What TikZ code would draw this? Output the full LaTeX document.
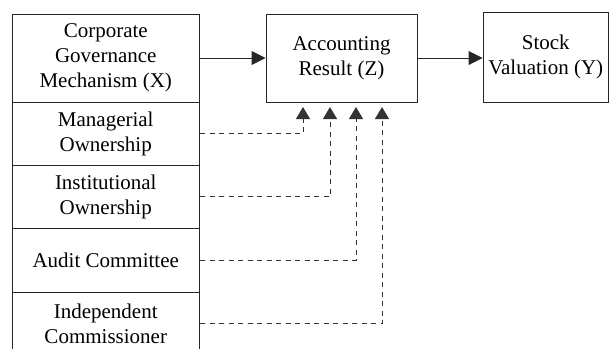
\documentclass[tikz,border=0pt]{standalone}
\usepackage{fontspec}
\setmainfont{Liberation Serif}
\usetikzlibrary{arrows.meta}
\tikzset{
  box/.style={draw=black!85, line width=1pt, inner sep=0pt, align=center, font=\fontsize{21}{25}\selectfont},
  solidarrow/.style={draw=black!85, line width=1pt, -{Triangle[length=14pt,width=14pt]}},
  dasharrow/.style={draw=black!80, line width=1pt, dash pattern=on 5pt off 4.5pt, -{Triangle[length=12pt,width=14pt]}}
}
\begin{document}
\begin{tikzpicture}[x=1pt,y=-1pt]
\useasboundingbox (0,0) rectangle (609,348);
\node[box, minimum width=187.5pt, minimum height=88pt] (X) at (105.75,58) {Corporate\\Governance\\Mechanism (X)};
\node[box, minimum width=187.5pt, minimum height=63pt] (M) at (105.75,133.5) {Managerial\\Ownership};
\node[box, minimum width=187.5pt, minimum height=63pt] (I) at (105.75,196.5) {Institutional\\Ownership};
\node[box, minimum width=187.5pt, minimum height=64pt] (A) at (105.75,260) {Audit Committee};
\node[box, minimum width=187.5pt, minimum height=63pt] (C) at (105.75,323.5) {Independent\\Commissioner};
\node[box, minimum width=151pt, minimum height=88pt] (Z) at (341.5,58) {Accounting\\Result (Z)};
\node[box, minimum width=125.5pt, minimum height=90pt] (Y) at (545.75,57) {Stock\\Valuation (Y)};
\draw[solidarrow] (X.east) -- (Z.west);
\draw[solidarrow] (Z.east) -- (Y.west |- Z.east);
\coordinate (t1) at (303,107);
\coordinate (t2) at (330,107);
\coordinate (t3) at (356,107);
\coordinate (t4) at (382,107);
\draw[dasharrow] (M.east) -| (t1);
\draw[dasharrow] (I.east) -| (t2);
\draw[dasharrow] (A.east) -| (t3);
\draw[dasharrow] (C.east) -| (t4);
\end{tikzpicture}
\end{document}
